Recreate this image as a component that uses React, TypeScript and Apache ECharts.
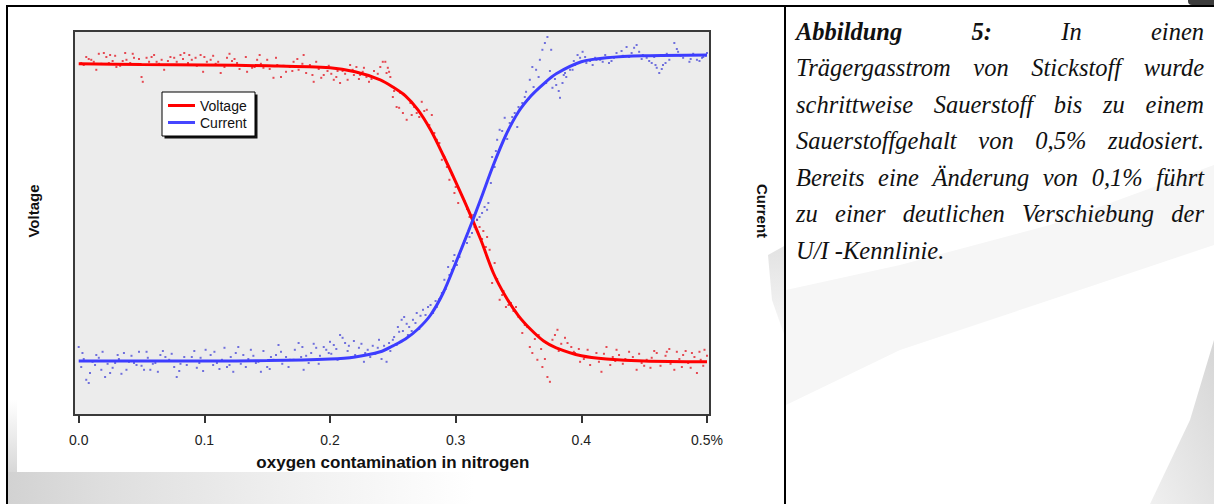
import React, { useEffect, useRef } from "react";
import * as echarts from "echarts";

// ---------- data ----------
const X_TICK_LABELS = ["0.0", "0.1", "0.2", "0.3", "0.4", "0.5%"];
const X_TITLE = "oxygen contamination in nitrogen";
const Y_LEFT_TITLE = "Voltage";
const Y_RIGHT_TITLE = "Current";
const LEGEND_NAMES = ["Voltage", "Current"];

// fitted curves [oxygen %, value in arbitrary units]
const VOLTAGE_FIT: [number, number][] = [
  [0, 87.8], [0.05, 87.6], [0.1, 87.5], [0.15, 87.3], [0.2, 86.8], [0.22, 85.8],
  [0.24, 83.8], [0.25, 82.0], [0.26, 79.8], [0.27, 76.3], [0.28, 71.3], [0.29, 65.0],
  [0.3, 58.3], [0.31, 51.3], [0.32, 43.8], [0.33, 35.5], [0.34, 29.5], [0.35, 24.8],
  [0.36, 21.3], [0.37, 18.5], [0.38, 16.8], [0.4, 14.8], [0.42, 14.0], [0.45, 13.5], [0.5, 13.3],
];
const CURRENT_FIT: [number, number][] = [
  [0, 13.5], [0.05, 13.5], [0.1, 13.5], [0.15, 13.6], [0.2, 14.0], [0.22, 14.5],
  [0.24, 15.8], [0.25, 17.3], [0.26, 19.0], [0.27, 21.5], [0.28, 25.0], [0.29, 30.5],
  [0.3, 38.0], [0.31, 45.8], [0.32, 54.0], [0.33, 62.5], [0.34, 70.0], [0.35, 75.8],
  [0.36, 79.8], [0.37, 82.8], [0.38, 85.3], [0.4, 88.3], [0.42, 89.3], [0.45, 89.8], [0.5, 90.0],
];

// measured points
const VOLTAGE_POINTS: [number, number][] = [
  [0.002, 88.0], [0.006, 89.5], [0.01, 88.8], [0.014, 86.3], [0.02, 90.5], [0.022, 89.5], [0.025, 90.0],
  [0.03, 87.0], [0.037, 90.5], [0.038, 88.8], [0.044, 89.3], [0.05, 84.5], [0.051, 83.3], [0.054, 89.3],
  [0.058, 89.5], [0.062, 88.3], [0.068, 86.3], [0.076, 89.3], [0.081, 90.0], [0.084, 90.5], [0.09, 88.8],
  [0.097, 90.0], [0.099, 85.8], [0.105, 88.8], [0.113, 85.5], [0.118, 89.3], [0.126, 88.0], [0.134, 85.8],
  [0.142, 88.8], [0.147, 86.8], [0.155, 84.3], [0.161, 84.5], [0.165, 85.8], [0.171, 88.3], [0.179, 90.0],
  [0.181, 85.5], [0.187, 83.3], [0.195, 85.0], [0.203, 83.8], [0.208, 83.0], [0.216, 87.5], [0.221, 87.0],
  [0.227, 86.8], [0.229, 84.5], [0.242, 88.3], [0.244, 88.3], [0.245, 85.5], [0.247, 85.8], [0.248, 84.5],
  [0.25, 79.5], [0.253, 77.0], [0.255, 76.8], [0.261, 73.8], [0.265, 75.0], [0.269, 75.5], [0.273, 78.3],
  [0.277, 76.3], [0.281, 75.0], [0.285, 68.8], [0.289, 63.8], [0.293, 62.0], [0.295, 58.8], [0.299, 55.5],
  [0.302, 53.0], [0.311, 49.5], [0.317, 48.8], [0.319, 47.0], [0.325, 44.5], [0.327, 41.3], [0.329, 33.0],
  [0.335, 28.8], [0.34, 27.0], [0.348, 27.0], [0.353, 20.5], [0.359, 17.0], [0.361, 15.5], [0.365, 13.8],
  [0.369, 12.0], [0.373, 9.5], [0.375, 8.3], [0.377, 18.8], [0.381, 21.3], [0.387, 19.3], [0.392, 17.0],
  [0.399, 13.3], [0.405, 16.3], [0.412, 15.5], [0.416, 10.8], [0.42, 17.0], [0.425, 14.5], [0.43, 15.0],
  [0.438, 15.8], [0.444, 11.3], [0.452, 13.8], [0.46, 15.5], [0.468, 15.8], [0.474, 11.3], [0.481, 15.0],
  [0.488, 15.5], [0.492, 10.5], [0.498, 16.3],
  [0.004, 87.5], [0.012, 88.3], [0.018, 87.8], [0.027, 88.5], [0.033, 87.3], [0.041, 88.0], [0.047, 87.5],
  [0.056, 88.3], [0.064, 87.8], [0.071, 88.5], [0.079, 87.5], [0.087, 88.0], [0.094, 87.3], [0.102, 88.3],
  [0.109, 87.8], [0.116, 87.0], [0.122, 88.5], [0.13, 87.5], [0.138, 86.8], [0.145, 87.8], [0.152, 86.5],
  [0.158, 87.5], [0.168, 87.0], [0.175, 86.3], [0.184, 87.5], [0.191, 86.5], [0.199, 87.3], [0.206, 86.0],
  [0.212, 85.3], [0.218, 86.3], [0.224, 85.0], [0.233, 84.0], [0.238, 85.3], [0.256, 80.5], [0.264, 78.0],
  [0.287, 68.0], [0.297, 60.0], [0.305, 55.0], [0.314, 50.0], [0.322, 46.0], [0.331, 38.0], [0.338, 31.0],
  [0.344, 28.0], [0.352, 24.0], [0.357, 22.0], [0.366, 20.0], [0.372, 18.0], [0.382, 16.0], [0.395, 15.5],
  [0.408, 14.5], [0.427, 13.5], [0.435, 14.0], [0.448, 13.0], [0.456, 14.3], [0.465, 13.5], [0.471, 12.8],
  [0.478, 14.0], [0.485, 13.0], [0.495, 13.8],
  [0.008, 89.0], [0.016, 90.3], [0.024, 88.0], [0.029, 89.8], [0.035, 88.5], [0.043, 90.3], [0.048, 89.0],
  [0.06, 90.0], [0.066, 88.8], [0.073, 89.5], [0.078, 88.3], [0.083, 89.0], [0.088, 90.0], [0.093, 89.3],
  [0.1, 89.5], [0.107, 89.8], [0.111, 88.3], [0.12, 90.3], [0.124, 89.0], [0.128, 86.5], [0.133, 89.5],
  [0.14, 87.0], [0.144, 90.0], [0.15, 88.8], [0.157, 89.3], [0.163, 87.3], [0.17, 86.0], [0.174, 89.0],
  [0.178, 87.8], [0.186, 85.0], [0.189, 88.3], [0.193, 84.3], [0.198, 86.0], [0.201, 85.3], [0.205, 84.5],
  [0.21, 86.0], [0.214, 83.8], [0.219, 85.0], [0.223, 84.0], [0.226, 85.8], [0.231, 83.3], [0.235, 86.0],
  [0.24, 87.0], [0.246, 86.8], [0.251, 81.0], [0.258, 75.5], [0.267, 77.0], [0.271, 74.5], [0.275, 76.0],
  [0.279, 72.5], [0.283, 70.5], [0.291, 64.5], [0.296, 61.0], [0.3, 57.0], [0.307, 53.5], [0.309, 51.5],
  [0.313, 48.0], [0.316, 46.5], [0.321, 44.0], [0.324, 42.0], [0.333, 34.0], [0.337, 30.0], [0.342, 27.5],
  [0.346, 26.0], [0.35, 24.5], [0.355, 22.5], [0.363, 19.0], [0.368, 16.5], [0.371, 14.0], [0.379, 20.0],
  [0.384, 17.8], [0.389, 18.0], [0.394, 15.8], [0.398, 16.5], [0.402, 14.0], [0.407, 12.5], [0.414, 13.3],
  [0.418, 15.3], [0.423, 12.5], [0.428, 16.3], [0.433, 12.8], [0.441, 14.5], [0.446, 15.3], [0.45, 12.3],
  [0.455, 11.8], [0.458, 16.0], [0.463, 12.3], [0.467, 14.8], [0.47, 16.5], [0.476, 15.8], [0.48, 12.0],
  [0.483, 16.0], [0.487, 11.8], [0.49, 14.5], [0.494, 15.8], [0.497, 12.3], [0.5, 14.8],
];
const CURRENT_POINTS: [number, number][] = [
  [0.0, 17.0], [0.002, 12.0], [0.006, 8.8], [0.008, 8.0], [0.014, 15.0], [0.018, 11.3], [0.021, 9.5],
  [0.025, 10.5], [0.029, 13.0], [0.036, 15.5], [0.038, 11.3], [0.044, 13.0], [0.048, 15.8], [0.052, 11.3],
  [0.057, 11.3], [0.065, 15.0], [0.069, 14.5], [0.076, 12.0], [0.078, 9.5], [0.084, 14.5], [0.09, 14.5],
  [0.094, 11.8], [0.101, 16.3], [0.105, 15.0], [0.11, 13.0], [0.118, 12.0], [0.123, 10.8], [0.127, 17.0],
  [0.131, 15.0], [0.137, 16.3], [0.141, 13.0], [0.145, 10.8], [0.15, 12.0], [0.157, 15.0], [0.159, 17.5],
  [0.165, 14.5], [0.171, 13.8], [0.175, 18.0], [0.179, 11.3], [0.185, 15.5], [0.189, 16.8], [0.195, 17.0],
  [0.199, 15.5], [0.203, 17.5], [0.208, 20.0], [0.212, 18.0], [0.217, 14.5], [0.223, 16.8], [0.227, 13.3],
  [0.232, 14.5], [0.239, 18.8], [0.245, 13.3], [0.251, 19.5], [0.255, 20.8], [0.25, 18.8], [0.254, 22.0],
  [0.257, 23.8], [0.259, 24.5], [0.263, 22.0], [0.266, 23.8], [0.269, 25.5], [0.274, 26.3], [0.278, 27.0],
  [0.282, 25.5], [0.285, 27.0], [0.289, 30.5], [0.291, 33.8], [0.294, 37.0], [0.297, 36.3], [0.299, 40.0],
  [0.303, 39.5], [0.305, 42.0], [0.309, 43.0], [0.313, 45.5], [0.317, 48.8], [0.319, 49.5], [0.321, 50.5],
  [0.325, 51.3], [0.326, 53.0], [0.329, 64.5], [0.333, 68.8], [0.335, 71.3], [0.339, 74.3], [0.343, 73.0],
  [0.347, 75.5], [0.349, 72.0], [0.353, 78.0], [0.356, 80.8], [0.359, 83.8], [0.361, 87.0], [0.364, 86.3],
  [0.367, 88.8], [0.369, 91.3], [0.371, 93.0], [0.373, 94.5], [0.376, 91.3], [0.377, 81.8], [0.38, 82.5],
  [0.383, 79.3], [0.385, 83.0], [0.387, 85.5], [0.388, 84.5], [0.391, 86.3], [0.393, 86.3], [0.397, 90.0],
  [0.401, 90.8], [0.404, 88.0], [0.409, 87.5], [0.417, 88.3], [0.422, 88.0], [0.43, 89.5], [0.436, 92.0],
  [0.44, 90.5], [0.444, 92.5], [0.446, 90.8], [0.452, 89.3], [0.456, 88.0], [0.46, 86.8], [0.462, 85.5],
  [0.465, 87.5], [0.47, 88.8], [0.474, 93.0], [0.477, 90.8], [0.481, 89.3], [0.486, 88.3], [0.492, 88.8],
  [0.496, 89.3], [0.5, 90.5],
  [0.004, 14.0], [0.011, 13.3], [0.016, 14.3], [0.023, 12.8], [0.032, 14.0], [0.04, 13.3], [0.046, 12.5],
  [0.055, 14.3], [0.061, 13.0], [0.072, 13.8], [0.081, 12.8], [0.088, 13.5], [0.097, 14.3], [0.107, 12.5],
  [0.114, 13.8], [0.121, 14.5], [0.129, 12.8], [0.135, 14.0], [0.143, 13.3], [0.153, 14.5], [0.162, 12.8],
  [0.168, 13.8], [0.177, 14.5], [0.183, 13.0], [0.192, 14.8], [0.201, 15.3], [0.206, 13.8], [0.214, 16.0],
  [0.22, 15.0], [0.23, 16.3], [0.236, 15.3], [0.243, 17.3], [0.248, 16.0], [0.262, 20.0], [0.271, 21.5],
  [0.301, 37.5], [0.311, 44.5], [0.331, 62.0], [0.341, 69.0], [0.351, 76.5], [0.358, 79.0], [0.372, 83.0],
  [0.395, 87.5], [0.412, 88.8], [0.426, 89.3], [0.433, 89.8], [0.449, 90.0], [0.458, 89.5], [0.468, 90.3],
  [0.479, 89.8], [0.489, 90.3], [0.497, 89.5],
  [0.003, 15.5], [0.009, 10.5], [0.013, 12.5], [0.019, 15.8], [0.027, 11.8], [0.031, 15.0], [0.034, 10.3],
  [0.042, 14.8], [0.05, 12.3], [0.054, 15.8], [0.059, 12.8], [0.063, 10.8], [0.067, 16.0], [0.074, 15.3],
  [0.08, 11.0], [0.086, 12.5], [0.092, 16.0], [0.096, 13.0], [0.099, 11.0], [0.103, 13.5], [0.108, 15.8],
  [0.112, 11.5], [0.116, 16.8], [0.12, 12.5], [0.125, 15.5], [0.133, 12.0], [0.139, 14.8], [0.147, 16.0],
  [0.152, 11.5], [0.155, 13.8], [0.161, 15.8], [0.167, 12.0], [0.172, 16.3], [0.178, 17.0], [0.181, 14.8],
  [0.187, 17.8], [0.191, 12.8], [0.197, 16.3], [0.2, 18.3], [0.205, 16.5], [0.21, 19.3], [0.215, 17.3],
  [0.219, 18.5], [0.225, 17.8], [0.228, 15.5], [0.234, 17.3], [0.238, 16.8], [0.241, 14.0], [0.247, 18.0],
  [0.253, 17.5], [0.258, 21.0], [0.261, 22.8], [0.265, 21.0], [0.268, 23.0], [0.272, 24.8], [0.276, 25.0],
  [0.28, 27.5], [0.284, 28.5], [0.287, 29.0], [0.292, 31.5], [0.295, 35.0], [0.298, 38.5], [0.304, 41.0],
  [0.307, 43.5], [0.315, 47.0], [0.323, 52.0], [0.328, 58.0], [0.332, 66.0], [0.337, 71.0], [0.345, 74.5],
  [0.35, 77.0], [0.355, 79.5], [0.362, 82.0], [0.366, 84.5], [0.375, 86.0], [0.379, 84.0], [0.382, 81.0],
  [0.386, 85.0], [0.39, 87.0], [0.394, 88.5], [0.399, 89.3], [0.403, 89.5], [0.407, 88.5], [0.411, 89.3],
  [0.415, 88.8], [0.419, 90.0], [0.424, 88.5], [0.428, 90.5], [0.432, 91.0], [0.438, 89.5], [0.442, 91.8],
  [0.448, 89.0], [0.454, 88.5], [0.459, 87.5], [0.464, 86.5], [0.467, 88.0], [0.472, 90.0], [0.476, 91.5],
  [0.483, 90.0], [0.487, 89.0], [0.491, 90.0], [0.494, 88.5], [0.499, 89.8],
];

const CAPTION_LINES = [
  "Abbildung 5: In einen",
  "Trägergasstrom von Stickstoff wurde",
  "schrittweise Sauerstoff bis zu einem",
  "Sauerstoffgehalt von 0,5% zudosiert.",
  "Bereits eine Änderung von 0,1% führt",
  "zu einer deutlichen Verschiebung der",
  "U/I -Kennlinie.",
];
const CAPTION_BOLD_WORDS = 2;

// ---------- layout ----------
const W = 1214;
const H = 504;
const PLOT = { x0: 78.7, x1: 707, y0: 31, y1: 415 };
const CAP_LEFT = 796;
const CAP_RIGHT = 1204;
const CAP_TOP = 31;
const CAP_STEP = 36.5;
const CAP_SIZE = 24.5;
const SERIF = "Liberation Serif";
const SANS = "Liberation Sans";

function buildCaption(): any[] {
  const ctx = document.createElement("canvas").getContext("2d") as CanvasRenderingContext2D;
  const font = (bold: boolean) => `italic ${bold ? "bold " : ""}${CAP_SIZE}px "${SERIF}"`;
  const mk = (text: string, x: number, y: number, bold: boolean) => ({
    type: "text",
    x,
    y,
    z: 5,
    style: {
      text,
      fontFamily: SERIF,
      fontSize: CAP_SIZE,
      fontStyle: "italic",
      fontWeight: bold ? "bold" : "normal",
      fill: "#111",
      align: "left",
      verticalAlign: "middle",
    },
  });
  const els: any[] = [];
  CAPTION_LINES.forEach((line, li) => {
    const y = CAP_TOP + li * CAP_STEP;
    if (li === CAPTION_LINES.length - 1) {
      els.push(mk(line, CAP_LEFT, y, false));
      return;
    }
    const words = line.split(" ");
    const bolds = words.map((_, i) => li === 0 && i < CAPTION_BOLD_WORDS);
    const widths = words.map((w, i) => {
      ctx.font = font(bolds[i]);
      return ctx.measureText(w).width;
    });
    const total = widths.reduce((a, b) => a + b, 0);
    const gap = (CAP_RIGHT - CAP_LEFT - total) / Math.max(1, words.length - 1);
    let x = CAP_LEFT;
    words.forEach((w, i) => {
      els.push(mk(w, x, y, bolds[i]));
      x += widths[i] + gap;
    });
  });
  return els;
}

export default function App() {
  const ref = useRef<HTMLDivElement>(null);

  useEffect(() => {
    if (!ref.current) return;
    const chart = echarts.init(ref.current, undefined, { renderer: "svg" });

    const grad = (x: number, y: number, x2: number, y2: number, stops: [number, string][]) =>
      new echarts.graphic.LinearGradient(x, y, x2, y2, stops.map(([offset, color]) => ({ offset, color })));

    const decor: any[] = [
      // page background swooshes
      {
        type: "rect", z: -20, shape: { x: 8, y: 472, width: 777, height: 32 },
        style: { fill: grad(0, 0, 1, 0, [[0, "#d2d2d2"], [0.12, "#dedede"], [0.35, "#efefef"], [0.6, "#ffffff"]]) },
      },
      {
        type: "rect", z: -20, shape: { x: 8, y: 400, width: 9, height: 72 },
        style: { fill: grad(0, 0, 0, 1, [[0, "#ffffff"], [1, "#d8d8d8"]]) },
      },
      {
        type: "polygon", z: -20,
        shape: { points: [[768, 255], [786, 245], [786, 340], [772, 300]] },
        style: { fill: grad(0, 0, 0, 1, [[0, "#e2e2e2"], [1, "#f8f8f8"]]) },
      },
      {
        type: "polygon", z: -20,
        shape: { points: [[786, 290], [900, 265], [1050, 225], [1214, 165], [1214, 245], [1050, 300], [900, 350], [786, 405]] },
        style: { fill: "#f6f6f6" },
      },
      {
        type: "polygon", z: -20,
        shape: { points: [[1214, 340], [1214, 504], [1150, 504], [1190, 420]] },
        style: { fill: grad(1, 0, 0, 1, [[0, "#d6d6d6"], [1, "#f0f0f0"]]) },
      },
      // table lines
      { type: "line", z: -5, shape: { x1: 6, y1: 6, x2: 1214, y2: 6 }, style: { stroke: "#000", lineWidth: 2 } },
      { type: "line", z: -5, shape: { x1: 7, y1: 5, x2: 7, y2: 504 }, style: { stroke: "#000", lineWidth: 2 } },
      { type: "line", z: -5, shape: { x1: 785, y1: 5, x2: 785, y2: 504 }, style: { stroke: "#000", lineWidth: 2 } },
      { type: "rect", z: -5, shape: { x: 1188, y: -6, width: 30, height: 11, r: 4 }, style: { fill: "#3c3c3c" } },
      // plot frame
      {
        type: "rect", z: -2, shape: { x: 74, y: 31, width: 636, height: 384 },
        style: { fill: "#ececec", stroke: "#3a3a3a", lineWidth: 2 },
      },
      // legend box + shadow
      { type: "rect", z: 1, shape: { x: 164.5, y: 94.5, width: 93, height: 44 }, style: { fill: "#111" } },
      { type: "rect", z: 1, shape: { x: 162, y: 92, width: 93, height: 44 }, style: { fill: "#fff", stroke: "#000", lineWidth: 1 } },
      // axis titles
      {
        type: "text", x: 33, y: 211, rotation: Math.PI / 2, z: 5,
        style: { text: Y_LEFT_TITLE, fontFamily: SANS, fontSize: 15, fontWeight: "bold", fill: "#111", align: "center", verticalAlign: "middle" },
      },
      {
        type: "text", x: 762, y: 211, rotation: -Math.PI / 2, z: 5,
        style: { text: Y_RIGHT_TITLE, fontFamily: SANS, fontSize: 15, fontWeight: "bold", fill: "#111", align: "center", verticalAlign: "middle" },
      },
    ];

    const option: any = {
      animation: false,
      backgroundColor: "#ffffff",
      grid: { left: PLOT.x0, right: W - PLOT.x1, top: PLOT.y0, bottom: H - PLOT.y1 },
      legend: {
        data: LEGEND_NAMES,
        orient: "vertical",
        left: 168,
        top: 98.5,
        padding: 0,
        itemGap: 3,
        itemWidth: 27,
        itemHeight: 3,
        icon: "rect",
        textStyle: { fontSize: 14, fontFamily: SANS, color: "#111" },
      },
      xAxis: {
        type: "value",
        min: 0,
        max: 0.5,
        interval: 0.1,
        axisLine: { show: false },
        axisTick: { show: true, length: 8, lineStyle: { color: "#333", width: 2 } },
        splitLine: { show: false },
        axisLabel: {
          margin: 18,
          fontSize: 14,
          fontFamily: SANS,
          color: "#222",
          formatter: (v: number) => X_TICK_LABELS[Math.round(v * 10)] ?? "",
        },
        name: X_TITLE,
        nameLocation: "middle",
        nameGap: 39,
        nameTextStyle: { fontSize: 17, fontWeight: "bold", fontFamily: SANS, color: "#111" },
      },
      yAxis: [
        { type: "value", min: 0, max: 96, show: false },
        { type: "value", min: 0, max: 96, show: false, position: "right" },
      ],
      series: [
        {
          name: "Voltage points", type: "scatter", yAxisIndex: 0, data: VOLTAGE_POINTS,
          symbol: "rect", symbolSize: 2, itemStyle: { color: "#e3202c" }, silent: true,
        },
        {
          name: "Current points", type: "scatter", yAxisIndex: 1, data: CURRENT_POINTS,
          symbol: "rect", symbolSize: 2, itemStyle: { color: "#5050d8" }, silent: true,
        },
        {
          name: "Voltage", type: "line", yAxisIndex: 0, data: VOLTAGE_FIT, smooth: 0.3,
          showSymbol: false, lineStyle: { color: "#ff0000", width: 3 }, itemStyle: { color: "#ff0000" },
        },
        {
          name: "Current", type: "line", yAxisIndex: 1, data: CURRENT_FIT, smooth: 0.3,
          showSymbol: false, lineStyle: { color: "#3d3dff", width: 3 }, itemStyle: { color: "#4646ff" },
        },
      ],
      graphic: { elements: [...decor, ...buildCaption()] },
    };

    chart.setOption(option);
    return () => chart.dispose();
  }, []);

  return (
    <div
      ref={ref}
      style={{ position: "fixed", left: 0, top: 0, width: W, height: H, background: "#fff" }}
    />
  );
}
